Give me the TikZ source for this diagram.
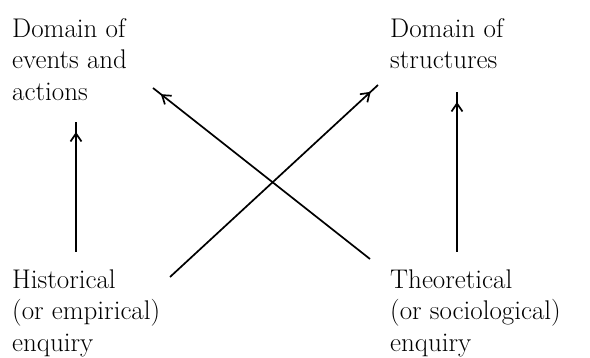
\documentclass[tikz,border=0pt]{standalone}
\usetikzlibrary{arrows.meta,decorations.markings}
\begin{document}
\begin{tikzpicture}[x=1pt,y=-1pt,
  lbl/.style={inner sep=0pt,anchor=north west,align=left,font=\fontsize{27}{31.5}\selectfont},
  conn/.style={line width=1.7pt,postaction={decorate},
    decoration={markings,mark=at position -10pt with {\arrow{Straight Barb[length=8pt,width=11pt,line width=1.7pt]}}}}]
\useasboundingbox (0,0) rectangle (590,358);
\node[lbl] (ev) at (12,18.3) {Domain of\\events and\\actions};
\node[lbl] (st) at (390,18.3) {Domain of\\structures};
\node[lbl] (hi) at (12,269.3) {Historical\\(or empirical)\\enquiry};
\node[lbl] (th) at (390,269.3) {Theoretical\\(or sociological)\\enquiry};
\coordinate (hiA) at (76,252);
\coordinate (evA) at (76,122);
\coordinate (thA) at (457,252);
\coordinate (stA) at (457,92);
\coordinate (hiB) at (170,277);
\coordinate (stB) at (378,85);
\coordinate (thB) at (370,259);
\coordinate (evB) at (153,88);
\draw[conn] (hiA) -- (evA);
\draw[conn] (thA) -- (stA);
\draw[conn] (hiB) -- (stB);
\draw[conn] (thB) -- (evB);
\end{tikzpicture}
\end{document}
